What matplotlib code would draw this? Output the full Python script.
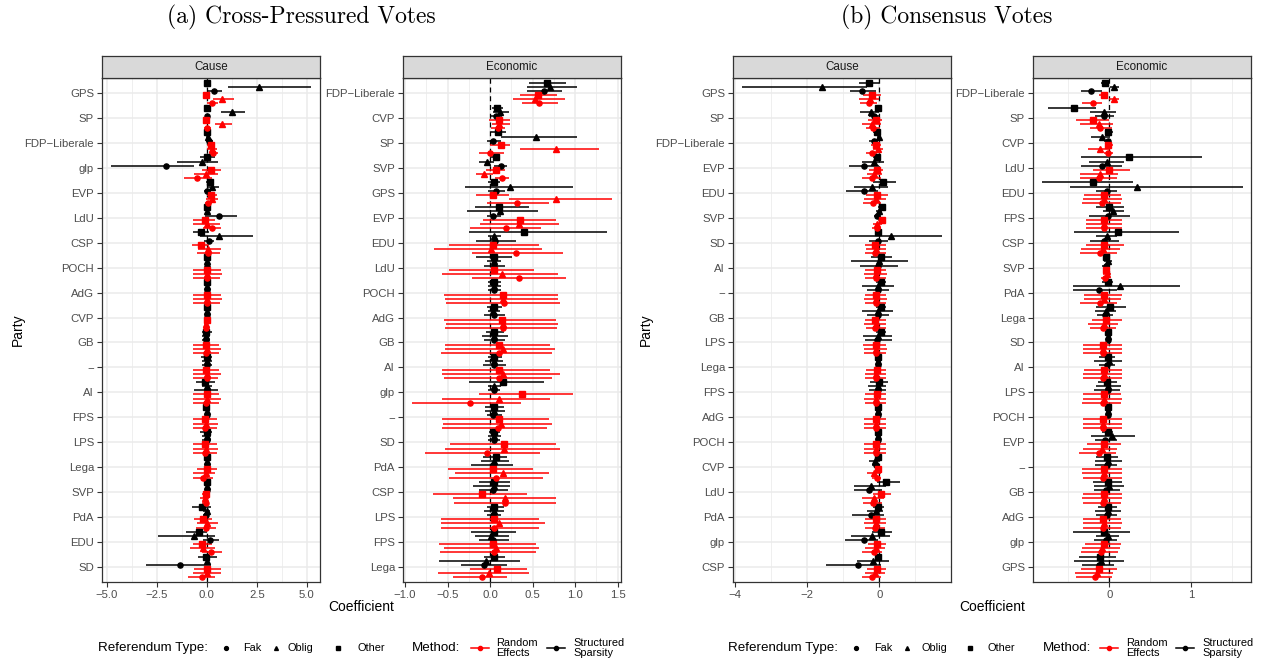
import matplotlib
matplotlib.use("Agg")
import matplotlib.pyplot as plt
from matplotlib.lines import Line2D
import numpy as np

plt.rcParams['font.family'] = ['Liberation Sans', 'DejaVu Sans']

# ---------------- data ----------------
# column order inside every row:
# Structured Sparsity: Other, Oblig, Fak ; Random Effects: Other, Oblig, Fak
col_method = ["Structured Sparsity"] * 3 + ["Random Effects"] * 3
col_type = ["Other", "Oblig", "Fak"] * 2

# (a) Cross-Pressured Votes, Cause
a_cause_parties = ["GPS", "SP", "FDP\u2212Liberale", "glp", "EVP", "LdU", "CSP", "POCH", "AdG", "CVP",
                   "GB", "\u2212", "AI", "FPS", "LPS", "Lega", "SVP", "PdA", "EDU", "SD"]
a_cause_est = [
    [0.00, 2.62, 0.37, -0.03, 0.75, 0.25],
    [0.00, 1.28, 0.03, -0.03, 0.75, 0.03],
    [0.03, 0.05, 0.13, 0.22, 0.25, 0.30],
    [0.03, -0.25, -2.05, 0.22, -0.03, -0.47],
    [0.17, 0.25, 0.03, 0.22, 0.25, 0.08],
    [0.00, 0.00, 0.62, -0.08, 0.00, 0.28],
    [-0.28, 0.62, 0.12, -0.28, 0.08, 0.08],
    [0.00, 0.00, 0.00, 0.00, 0.00, 0.00],
    [0.00, 0.00, 0.00, 0.00, 0.00, 0.00],
    [0.03, 0.00, 0.00, 0.00, -0.05, -0.05],
    [-0.03, -0.03, -0.03, -0.03, 0.00, -0.03],
    [0.00, 0.00, 0.00, -0.03, 0.03, 0.00],
    [-0.08, 0.00, 0.00, 0.00, 0.00, -0.03],
    [-0.03, 0.00, 0.00, -0.08, -0.03, -0.07],
    [0.00, 0.00, 0.00, -0.08, -0.03, -0.07],
    [0.00, 0.00, 0.00, 0.00, -0.05, -0.17],
    [0.00, 0.00, 0.00, -0.05, -0.08, -0.05],
    [-0.22, 0.00, -0.03, -0.17, 0.03, -0.03],
    [-0.38, -0.63, 0.17, -0.22, -0.17, 0.22],
    [-0.03, 0.00, -1.33, 0.03, 0.03, -0.25],
]
a_cause_lo = [
    [-0.05, 1.05, 0.03, -0.20, 0.33, 0.00],
    [-0.05, 0.72, -0.05, -0.10, 0.42, -0.13],
    [-0.03, -0.03, -0.03, 0.03, 0.03, 0.13],
    [-0.33, -1.50, -4.78, -0.22, -0.62, -1.13],
    [-0.03, 0.00, -0.13, 0.00, -0.03, -0.08],
    [-0.05, -0.05, -0.08, -0.67, -0.67, -0.17],
    [-0.70, -0.33, -0.13, -0.72, -0.45, -0.50],
    [-0.05, -0.05, -0.05, -0.70, -0.70, -0.67],
    [-0.05, -0.05, -0.05, -0.70, -0.70, -0.67],
    [-0.03, -0.05, -0.05, -0.10, -0.15, -0.13],
    [-0.25, -0.22, -0.22, -0.67, -0.67, -0.70],
    [-0.30, -0.25, -0.25, -0.70, -0.67, -0.67],
    [-0.55, -0.25, -0.63, -0.70, -0.70, -0.67],
    [-0.17, -0.05, -0.05, -0.70, -0.70, -0.70],
    [-0.33, -0.22, -0.22, -0.67, -0.70, -0.67],
    [-0.05, -0.05, -0.05, -0.50, -0.70, -0.70],
    [-0.05, -0.05, -0.05, -0.25, -0.33, -0.22],
    [-0.72, -0.17, -0.20, -0.63, -0.50, -0.53],
    [-1.03, -2.42, -0.20, -0.70, -0.83, -0.25],
    [-0.42, -0.05, -3.05, -0.63, -0.67, -0.95],
]
a_cause_hi = [
    [0.05, 5.22, 0.75, 0.15, 1.37, 0.58],
    [0.05, 1.92, 0.10, 0.05, 1.25, 0.20],
    [0.10, 0.12, 0.33, 0.42, 0.53, 0.58],
    [0.42, 0.58, -0.62, 0.72, 0.58, 0.28],
    [0.33, 0.62, 0.20, 0.50, 0.58, 0.28],
    [0.05, 0.05, 1.50, 0.42, 0.67, 0.70],
    [0.13, 2.33, 0.38, 0.13, 0.70, 0.67],
    [0.05, 0.05, 0.05, 0.70, 0.75, 0.67],
    [0.05, 0.05, 0.05, 0.70, 0.75, 0.67],
    [0.08, 0.05, 0.05, 0.10, 0.05, 0.05],
    [0.25, 0.17, 0.17, 0.62, 0.70, 0.62],
    [0.25, 0.25, 0.25, 0.62, 0.70, 0.58],
    [0.42, 0.25, 0.58, 0.62, 0.70, 0.62],
    [0.13, 0.05, 0.05, 0.53, 0.58, 0.53],
    [0.28, 0.20, 0.20, 0.53, 0.58, 0.53],
    [0.05, 0.05, 0.05, 0.50, 0.42, 0.33],
    [0.05, 0.05, 0.05, 0.12, 0.13, 0.08],
    [0.20, 0.17, 0.13, 0.28, 0.58, 0.47],
    [0.03, 0.42, 0.62, 0.25, 0.42, 0.75],
    [0.53, 0.05, 0.20, 0.70, 0.70, 0.42],
]

# (a) Cross-Pressured Votes, Economic
a_econ_parties = ["FDP\u2212Liberale", "CVP", "SP", "SVP", "GPS", "EVP", "EDU", "LdU", "POCH", "AdG",
                  "GB", "AI", "glp", "\u2212", "SD", "PdA", "CSP", "LPS", "FPS", "Lega"]
a_econ_est = [
    [0.67, 0.71, 0.63, 0.56, 0.53, 0.57],
    [0.08, 0.12, 0.07, 0.10, 0.11, 0.09],
    [0.09, 0.54, 0.04, 0.13, 0.78, 0.00],
    [0.07, -0.04, 0.13, 0.07, -0.07, 0.14],
    [0.05, 0.24, 0.07, 0.03, 0.77, 0.32],
    [0.11, 0.12, 0.04, 0.35, 0.34, 0.19],
    [0.40, 0.05, 0.06, 0.04, 0.01, 0.30],
    [0.05, 0.05, 0.05, 0.05, 0.14, 0.34],
    [0.05, 0.05, 0.05, 0.15, 0.15, 0.16],
    [0.05, 0.04, 0.05, 0.14, 0.15, 0.15],
    [0.05, 0.05, 0.05, 0.11, 0.15, 0.11],
    [0.05, 0.05, 0.05, 0.10, 0.15, 0.11],
    [0.15, 0.05, 0.05, 0.38, 0.10, -0.23],
    [0.05, 0.05, 0.04, 0.10, 0.13, 0.09],
    [0.05, 0.05, 0.05, 0.16, 0.16, -0.03],
    [0.07, 0.05, 0.03, 0.03, 0.15, 0.07],
    [0.05, 0.05, 0.04, -0.09, 0.18, 0.18],
    [0.05, 0.05, 0.04, 0.05, 0.10, 0.05],
    [0.05, 0.01, 0.04, 0.03, 0.07, 0.05],
    [0.05, -0.05, -0.07, 0.08, -0.01, -0.10],
]
a_econ_lo = [
    [0.46, 0.44, 0.43, 0.35, 0.27, 0.38],
    [0.02, 0.03, 0.01, -0.01, 0.02, 0.01],
    [0.01, 0.13, -0.04, 0.00, 0.35, -0.13],
    [0.00, -0.13, 0.05, -0.05, -0.16, 0.06],
    [-0.02, -0.30, -0.02, -0.16, 0.22, -0.04],
    [-0.18, -0.27, -0.04, -0.08, -0.12, -0.23],
    [-0.25, -0.02, -0.16, -0.48, -0.66, -0.21],
    [-0.16, -0.04, -0.07, -0.48, -0.56, -0.21],
    [-0.02, -0.02, -0.02, -0.54, -0.53, -0.52],
    [-0.04, -0.02, -0.07, -0.54, -0.52, -0.53],
    [-0.05, -0.10, -0.07, -0.53, -0.53, -0.58],
    [-0.02, -0.06, -0.08, -0.57, -0.56, -0.54],
    [-0.25, -0.02, -0.02, -0.13, -0.56, -0.92],
    [-0.06, -0.06, -0.04, -0.56, -0.55, -0.57],
    [-0.01, -0.02, -0.02, -0.47, -0.53, -0.77],
    [-0.08, -0.11, -0.22, -0.49, -0.41, -0.48],
    [-0.13, -0.20, -0.13, -0.67, -0.44, -0.42],
    [-0.04, -0.07, -0.04, -0.58, -0.58, -0.58],
    [-0.22, -0.18, -0.13, -0.60, -0.54, -0.59],
    [-0.07, -0.60, -0.34, -0.24, -0.61, -0.43],
]
a_econ_hi = [
    [0.89, 1.02, 0.85, 0.79, 0.88, 0.80],
    [0.15, 0.22, 0.14, 0.23, 0.24, 0.18],
    [0.19, 1.02, 0.13, 0.24, 1.28, 0.16],
    [0.12, 0.05, 0.20, 0.18, 0.03, 0.22],
    [0.12, 0.97, 0.18, 0.22, 1.43, 0.69],
    [0.46, 0.56, 0.13, 0.78, 0.81, 0.60],
    [1.38, 0.13, 0.30, 0.58, 0.61, 0.86],
    [0.26, 0.13, 0.18, 0.52, 0.80, 0.89],
    [0.13, 0.13, 0.13, 0.80, 0.80, 0.82],
    [0.14, 0.12, 0.18, 0.78, 0.80, 0.79],
    [0.16, 0.21, 0.18, 0.71, 0.76, 0.73],
    [0.14, 0.15, 0.19, 0.71, 0.82, 0.73],
    [0.64, 0.13, 0.12, 0.97, 0.70, 0.36],
    [0.16, 0.18, 0.14, 0.69, 0.73, 0.67],
    [0.12, 0.13, 0.12, 0.78, 0.82, 0.59],
    [0.20, 0.22, 0.27, 0.51, 0.69, 0.62],
    [0.24, 0.23, 0.21, 0.43, 0.78, 0.78],
    [0.16, 0.16, 0.13, 0.58, 0.65, 0.58],
    [0.30, 0.22, 0.22, 0.54, 0.57, 0.54],
    [0.18, 0.35, 0.20, 0.43, 0.46, 0.20],
]

# (b) Consensus Votes, Cause
b_cause_parties = ["GPS", "SP", "FDP\u2212Liberale", "EVP", "EDU", "SVP", "SD", "AI", "\u2212", "GB",
                   "LPS", "Lega", "FPS", "AdG", "POCH", "CVP", "LdU", "PdA", "glp", "CSP"]
b_cause_est = [
    [-0.28, -1.58, -0.47, -0.19, -0.26, -0.28],
    [-0.03, -0.24, -0.14, -0.09, -0.19, -0.17],
    [-0.07, 0.00, -0.15, -0.10, -0.03, -0.21],
    [-0.06, -0.15, -0.42, -0.07, -0.14, -0.21],
    [0.11, -0.19, -0.42, -0.06, -0.09, -0.17],
    [0.08, 0.00, -0.05, 0.08, -0.05, -0.06],
    [-0.03, 0.32, -0.03, -0.12, -0.09, -0.12],
    [0.04, 0.00, -0.03, -0.07, -0.09, -0.09],
    [0.04, -0.03, -0.03, -0.09, -0.09, -0.09],
    [0.04, -0.03, -0.03, -0.12, -0.10, -0.12],
    [0.04, -0.03, -0.05, -0.10, -0.09, -0.10],
    [-0.03, -0.03, -0.03, -0.07, -0.10, -0.10],
    [0.00, -0.03, -0.03, -0.07, -0.09, -0.09],
    [-0.03, -0.03, -0.03, -0.10, -0.10, -0.10],
    [-0.03, -0.03, -0.03, -0.10, -0.10, -0.10],
    [-0.03, -0.12, -0.09, -0.03, -0.14, -0.07],
    [0.20, -0.24, -0.29, 0.06, -0.15, -0.17],
    [-0.03, -0.10, -0.24, -0.10, -0.10, -0.12],
    [0.06, -0.19, -0.43, -0.06, -0.10, -0.14],
    [-0.03, -0.17, -0.58, -0.07, -0.12, -0.19],
]
b_cause_lo = [
    [-0.56, -3.82, -0.81, -0.44, -0.56, -0.54],
    [-0.08, -0.54, -0.28, -0.31, -0.47, -0.38],
    [-0.17, -0.05, -0.28, -0.24, -0.17, -0.37],
    [-0.17, -0.49, -0.84, -0.28, -0.35, -0.49],
    [-0.17, -0.69, -0.93, -0.37, -0.42, -0.44],
    [-0.03, -0.09, -0.14, -0.03, -0.17, -0.19],
    [-0.09, -0.84, -0.28, -0.40, -0.38, -0.40],
    [-0.24, -0.77, -0.54, -0.40, -0.43, -0.40],
    [-0.09, -0.47, -0.33, -0.40, -0.42, -0.40],
    [-0.09, -0.47, -0.33, -0.40, -0.42, -0.38],
    [-0.09, -0.44, -0.40, -0.44, -0.42, -0.42],
    [-0.09, -0.09, -0.09, -0.38, -0.40, -0.40],
    [-0.26, -0.31, -0.29, -0.40, -0.42, -0.40],
    [-0.09, -0.09, -0.09, -0.42, -0.42, -0.42],
    [-0.09, -0.09, -0.09, -0.42, -0.42, -0.42],
    [-0.10, -0.28, -0.19, -0.09, -0.33, -0.19],
    [-0.07, -0.70, -0.70, -0.17, -0.47, -0.44],
    [-0.17, -0.33, -0.75, -0.40, -0.42, -0.40],
    [-0.19, -0.79, -0.94, -0.32, -0.40, -0.47],
    [-0.09, -0.63, -1.49, -0.35, -0.40, -0.47],
]
b_cause_hi = [
    [0.00, -0.35, -0.10, 0.04, 0.00, -0.05],
    [0.02, 0.00, 0.00, 0.08, 0.04, 0.02],
    [0.02, 0.05, -0.03, 0.04, 0.11, -0.07],
    [0.04, 0.13, 0.00, 0.11, 0.08, 0.04],
    [0.46, 0.25, -0.03, 0.25, 0.19, 0.04],
    [0.18, 0.09, 0.05, 0.19, 0.09, 0.06],
    [0.04, 1.73, 0.23, 0.19, 0.20, 0.19],
    [0.36, 0.79, 0.53, 0.20, 0.22, 0.19],
    [0.18, 0.42, 0.28, 0.20, 0.22, 0.19],
    [0.18, 0.39, 0.28, 0.19, 0.20, 0.19],
    [0.19, 0.36, 0.36, 0.20, 0.22, 0.19],
    [0.04, 0.04, 0.04, 0.20, 0.19, 0.19],
    [0.23, 0.20, 0.20, 0.19, 0.20, 0.19],
    [0.04, 0.04, 0.04, 0.19, 0.19, 0.19],
    [0.04, 0.04, 0.04, 0.19, 0.19, 0.19],
    [0.04, 0.02, 0.02, 0.04, 0.04, 0.04],
    [0.57, 0.20, 0.08, 0.32, 0.13, 0.08],
    [0.13, 0.11, 0.14, 0.19, 0.19, 0.16],
    [0.34, 0.30, -0.03, 0.20, 0.16, 0.08],
    [0.04, 0.27, 0.05, 0.20, 0.16, 0.06],
]

# (b) Consensus Votes, Economic
b_econ_parties = ["FDP\u2212Liberale", "SP", "CVP", "LdU", "EDU", "FPS", "CSP", "SVP", "PdA", "Lega",
                  "SD", "AI", "LPS", "POCH", "EVP", "\u2212", "GB", "AdG", "glp", "GPS"]
b_econ_est = [
    [-0.05, 0.06, -0.22, -0.07, 0.06, -0.20],
    [-0.43, -0.07, -0.07, -0.20, -0.13, -0.11],
    [-0.01, -0.09, -0.02, -0.01, -0.11, -0.01],
    [0.24, -0.03, -0.09, 0.00, -0.11, -0.13],
    [-0.20, 0.34, -0.03, -0.07, -0.07, -0.09],
    [0.00, 0.05, -0.01, -0.06, -0.07, -0.07],
    [0.11, -0.03, -0.07, -0.06, -0.08, -0.11],
    [-0.04, -0.02, -0.04, -0.04, -0.03, -0.05],
    [-0.02, 0.13, -0.12, -0.07, -0.07, -0.11],
    [0.01, -0.04, -0.05, -0.04, -0.07, -0.08],
    [-0.01, -0.01, -0.01, -0.08, -0.08, -0.08],
    [-0.02, 0.00, -0.03, -0.07, -0.07, -0.08],
    [-0.03, -0.01, -0.02, -0.07, -0.07, -0.08],
    [-0.01, -0.01, -0.01, -0.08, -0.08, -0.08],
    [-0.02, 0.03, -0.05, -0.07, -0.09, -0.13],
    [-0.03, -0.01, -0.03, -0.07, -0.07, -0.08],
    [-0.02, 0.00, -0.04, -0.07, -0.07, -0.08],
    [-0.02, -0.01, -0.03, -0.08, -0.07, -0.08],
    [-0.07, -0.02, -0.04, -0.07, -0.09, -0.10],
    [-0.11, -0.10, -0.13, -0.13, -0.15, -0.17],
]
b_econ_lo = [
    [-0.10, 0.01, -0.34, -0.13, 0.00, -0.33],
    [-0.75, -0.23, -0.17, -0.41, -0.36, -0.24],
    [-0.05, -0.22, -0.06, -0.05, -0.26, -0.07],
    [-0.34, -0.25, -0.34, -0.20, -0.36, -0.36],
    [-0.82, -0.48, -0.16, -0.31, -0.32, -0.33],
    [-0.16, -0.08, -0.25, -0.28, -0.29, -0.28],
    [-0.43, -0.16, -0.24, -0.29, -0.34, -0.36],
    [-0.07, -0.07, -0.09, -0.08, -0.08, -0.10],
    [-0.09, -0.45, -0.45, -0.31, -0.31, -0.36],
    [-0.16, -0.17, -0.15, -0.21, -0.26, -0.24],
    [-0.03, -0.03, -0.03, -0.32, -0.32, -0.32],
    [-0.13, -0.19, -0.13, -0.31, -0.32, -0.32],
    [-0.14, -0.16, -0.19, -0.32, -0.32, -0.33],
    [-0.04, -0.04, -0.04, -0.32, -0.32, -0.32],
    [-0.09, -0.22, -0.18, -0.27, -0.32, -0.37],
    [-0.16, -0.18, -0.17, -0.33, -0.33, -0.32],
    [-0.20, -0.19, -0.19, -0.32, -0.33, -0.32],
    [-0.14, -0.17, -0.16, -0.32, -0.32, -0.32],
    [-0.45, -0.16, -0.19, -0.30, -0.33, -0.34],
    [-0.37, -0.43, -0.33, -0.35, -0.42, -0.41],
]
b_econ_hi = [
    [0.00, 0.12, -0.09, -0.02, 0.12, -0.09],
    [-0.16, 0.08, 0.06, 0.00, 0.04, 0.03],
    [0.04, 0.01, 0.02, 0.04, 0.01, 0.04],
    [1.14, 0.18, 0.16, 0.25, 0.11, 0.10],
    [0.29, 1.63, 0.10, 0.14, 0.16, 0.14],
    [0.18, 0.18, 0.25, 0.15, 0.15, 0.15],
    [0.85, 0.10, 0.12, 0.18, 0.13, 0.09],
    [0.00, 0.03, 0.00, 0.00, 0.02, 0.00],
    [0.05, 0.87, 0.10, 0.16, 0.14, 0.10],
    [0.20, 0.08, 0.05, 0.15, 0.11, 0.08],
    [0.02, 0.02, 0.02, 0.15, 0.15, 0.15],
    [0.07, 0.16, 0.07, 0.15, 0.15, 0.15],
    [0.09, 0.14, 0.13, 0.14, 0.15, 0.14],
    [0.02, 0.02, 0.02, 0.15, 0.16, 0.15],
    [0.05, 0.31, 0.09, 0.14, 0.09, 0.08],
    [0.11, 0.15, 0.10, 0.15, 0.15, 0.15],
    [0.15, 0.18, 0.13, 0.15, 0.16, 0.14],
    [0.09, 0.14, 0.10, 0.14, 0.15, 0.14],
    [0.25, 0.12, 0.09, 0.14, 0.13, 0.11],
    [0.08, 0.18, 0.06, 0.09, 0.05, 0.03],
]

# ---------------- styling ----------------
W, H = 1265, 664
method_color = {"Random Effects": "#FF0000", "Structured Sparsity": "#000000"}
type_marker = {"Fak": "o", "Oblig": "^", "Other": "s"}
type_ms = {"Fak": 3.7, "Oblig": 4.4, "Other": 3.9}

def px(x):
    return x / W

def py(y):
    return 1 - y / H

fig = plt.figure(figsize=(W / 100, H / 100), dpi=100)

panel_top, panel_bot, strip_top = 78, 582, 56

def draw_panel(x0, x1, parties, est, lo, hi, xlim, major, minor, fmt, strip_label):
    ax = fig.add_axes([px(x0), py(panel_bot), px(x1 - x0), (panel_bot - panel_top) / H])
    est, lo, hi = np.array(est), np.array(lo), np.array(hi)
    n = len(parties)
    ypos = n - np.arange(n)
    for j in range(6):
        off = (2.5 - j) / 6.0
        c = method_color[col_method[j]]
        t = col_type[j]
        ax.hlines(ypos + off, lo[:, j], hi[:, j], color=c, lw=1.1, zorder=3)
        ax.plot(est[:, j], ypos + off, ls='none', marker=type_marker[t], ms=type_ms[t],
                color=c, mec=c, zorder=4)
    ax.axvline(0, color='black', ls=(0, (4, 3)), lw=0.9, zorder=2)
    ax.set_xlim(*xlim)
    ax.set_ylim(0.4, n + 0.6)
    ax.set_yticks(ypos)
    ax.set_yticklabels(parties)
    ax.set_xticks(major)
    ax.set_xticklabels([fmt(v).replace('-', '\u2212') for v in major])
    ax.set_xticks(minor, minor=True)
    ax.set_axisbelow(True)
    ax.grid(which='major', color='#EBEBEB', lw=1.1)
    ax.grid(which='minor', axis='x', color='#EBEBEB', lw=0.55)
    ax.tick_params(which='major', length=3.5, width=0.8, color='#333333',
                   labelsize=8.2, labelcolor='#4D4D4D', pad=2)
    ax.tick_params(which='minor', length=0)
    for s in ax.spines.values():
        s.set_color('#333333')
        s.set_linewidth(0.9)
    sax = fig.add_axes([px(x0), py(panel_top), px(x1 - x0), (panel_top - strip_top) / H])
    sax.set_facecolor('#D9D9D9')
    sax.set_xticks([])
    sax.set_yticks([])
    for s in sax.spines.values():
        s.set_color('#333333')
        s.set_linewidth(0.9)
    sax.text(0.5, 0.5, strip_label, ha='center', va='center', size=8.4, color='#1A1A1A',
             transform=sax.transAxes)
    return ax

f1 = lambda v: "%.1f" % v
f0 = lambda v: "%d" % v

draw_panel(101.7, 320, a_cause_parties, a_cause_est, a_cause_lo, a_cause_hi,
           (-5.25, 5.66), [-5, -2.5, 0, 2.5, 5], [-3.75, -1.25, 1.25, 3.75], f1, "Cause")
draw_panel(402.7, 621, a_econ_parties, a_econ_est, a_econ_lo, a_econ_hi,
           (-1.027, 1.54), [-1, -0.5, 0, 0.5, 1, 1.5], [-0.75, -0.25, 0.25, 0.75, 1.25], f1, "Economic")
draw_panel(732.7, 951, b_cause_parties, b_cause_est, b_cause_lo, b_cause_hi,
           (-4.065, 1.99), [-4, -2, 0], [-3, -1, 1], f0, "Cause")
draw_panel(1032.7, 1251, b_econ_parties, b_econ_est, b_econ_lo, b_econ_hi,
           (-0.937, 1.734), [0, 1], [-0.5, 0.5, 1.5], f0, "Economic")

# titles and axis titles
fig.text(px(301), py(17), "(a) Cross-Pressured Votes", family='cmr10', size=17, ha='center', va='center')
fig.text(px(947), py(17), "(b) Consensus Votes", family='cmr10', size=17, ha='center', va='center')
for xc in (361, 992):
    fig.text(px(xc), py(607), "Coefficient", ha='center', va='center', size=10)
for xc in (18, 646):
    fig.text(px(xc), py(330), "Party", ha='center', va='center', size=10, rotation=90)

# legends
def legend(x_title, keys, x_meth, x_re, x_ss):
    yc = 648
    fig.text(px(x_title), py(yc), "Referendum Type:", ha='left', va='center', size=9.6)
    for xm, xl, t in keys:
        fig.add_artist(Line2D([px(xm)], [py(yc)], transform=fig.transFigure, ls='none',
                              marker=type_marker[t], ms=2.8, color='black'))
        fig.text(px(xl), py(yc), t, ha='left', va='center', size=7.9)
    fig.text(px(x_meth), py(yc), "Method:", ha='left', va='center', size=9.6)
    for xm, m, lab in ((x_re, "Random Effects", "Random\nEffects"),
                       (x_ss, "Structured Sparsity", "Structured\nSparsity")):
        c = method_color[m]
        fig.add_artist(Line2D([px(xm - 9), px(xm + 9)], [py(yc), py(yc)], transform=fig.transFigure,
                              color=c, lw=1.1))
        fig.add_artist(Line2D([px(xm)], [py(yc)], transform=fig.transFigure, ls='none',
                              marker='o', ms=3.0, color=c))
        fig.text(px(xm + 17), py(yc), lab, ha='left', va='center', size=7.9, linespacing=1.1)

legend(98, [(226, 243, "Fak"), (276, 287, "Oblig"), (338, 357, "Other")], 412, 479.6, 556)
legend(728, [(856, 874, "Fak"), (907, 922, "Oblig"), (970, 987, "Other")], 1043, 1109, 1185)

fig.savefig("out.png", dpi=100)
